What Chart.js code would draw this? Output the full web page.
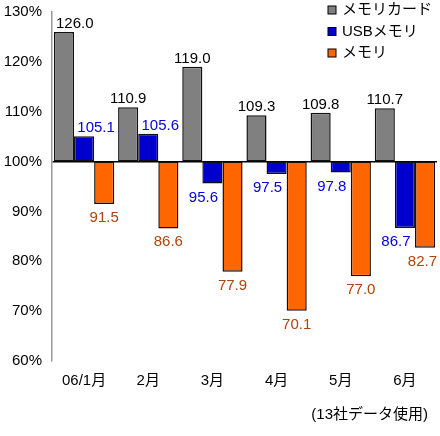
<!DOCTYPE html>
<html>
<head>
<meta charset="utf-8">
<script src="https://cdn.jsdelivr.net/npm/chart.js@4"></script>
<style>
  body { margin: 0; background: #fff; }
</style>
</head>
<body>
<canvas id="memChart" width="440" height="436"></canvas>
<script>
const months = ["06/1月", "2月", "3月", "4月", "5月", "6月"];
const memoryCard = [126.0, 110.9, 119.0, 109.3, 109.8, 110.7];
const usbMemory = [105.1, 105.6, 95.6, 97.5, 97.8, 86.7];
const memory = [91.5, 86.6, 77.9, 70.1, 77.0, 82.7];
const seriesNames = ["メモリカード", "USBメモリ", "メモリ"];
const note = "(13社データ使用)";

const FONT = "'Liberation Sans', Arial, 'Noto Sans CJK JP', sans-serif";
const labelColors = ["#000000", "#0000dd", "#b0420a"];

// 100% を基準にした浮きバー
const toRange = (arr) => arr.map((v) => [100, v]);

const valueLabels = {
    id: "valueLabels",
    afterDatasetsDraw(chart) {
        const ctx = chart.ctx;
        const yScale = chart.scales.y;
        const area = chart.chartArea;
        ctx.save();
        ctx.font = "15px " + FONT;
        ctx.textAlign = "center";
        ctx.textBaseline = "alphabetic";
        chart.data.datasets.forEach((ds, di) => {
            const meta = chart.getDatasetMeta(di);
            ds.values.forEach((v, i) => {
                const txt = v.toFixed(1);
                const w = ctx.measureText(txt).width;
                let x = meta.data[i].x;
                const y = yScale.getPixelForValue(v);
                // 真ん中の系列は隣のバーと重ならないようにずらす
                if (di === 1) x += v >= 100 ? 12 : -9;
                x = Math.max(x, area.left + 4 + w / 2);
                x = Math.min(x, chart.width - 3 - w / 2);
                ctx.fillStyle = labelColors[di];
                if (v >= 100) {
                    ctx.fillText(txt, x, y - 4);
                } else {
                    ctx.fillText(txt, x, y + 18);
                }
            });
        });
        ctx.restore();
    },
};

const legendAndNote = {
    id: "legendAndNote",
    afterDraw(chart) {
        const ctx = chart.ctx;
        ctx.save();
        ctx.font = "15px " + FONT;
        ctx.textBaseline = "middle";
        ctx.textAlign = "left";
        chart.data.datasets.forEach((ds, i) => {
            const y = 10 + i * 21.5;
            ctx.fillStyle = ds.backgroundColor;
            ctx.fillRect(328, y - 4, 8, 8);
            ctx.strokeStyle = "#000";
            ctx.lineWidth = 1;
            ctx.strokeRect(328, y - 4, 8, 8);
            ctx.fillStyle = "#000";
            ctx.fillText(ds.label, 342, y);
        });
        ctx.textAlign = "right";
        ctx.fillText(note, 428, 415);
        ctx.restore();
    },
};

new Chart(document.getElementById("memChart"), {
    type: "bar",
    data: {
        labels: months,
        datasets: [
            {
                label: seriesNames[0],
                values: memoryCard,
                data: toRange(memoryCard),
                backgroundColor: "#808080",
            },
            {
                label: seriesNames[1],
                values: usbMemory,
                data: toRange(usbMemory),
                backgroundColor: "#0000cc",
            },
            {
                label: seriesNames[2],
                values: memory,
                data: toRange(memory),
                backgroundColor: "#ff6600",
            },
        ],
    },
    options: {
        responsive: false,
        animation: false,
        datasets: {
            bar: {
                borderColor: "#111",
                borderWidth: 1.5,
                borderSkipped: false,
                barPercentage: 1,
                categoryPercentage: 0.94,
            },
        },
        layout: { padding: { top: 12, right: 3, left: 0, bottom: 0 } },
        plugins: {
            legend: { display: false },
            tooltip: { enabled: false },
        },
        scales: {
            x: {
                grid: { display: false, drawTicks: false },
                border: { display: false },
                ticks: {
                    color: "#000",
                    font: { size: 15, family: FONT },
                    padding: 11,
                },
                afterFit: (s) => { s.height = 75; },
            },
            y: {
                min: 60,
                max: 130,
                ticks: {
                    stepSize: 10,
                    color: "#000",
                    font: { size: 15, family: FONT },
                    padding: 10,
                    callback: (v) => v + "%",
                },
                grid: {
                    drawTicks: false,
                    color: (c) => (c.tick && c.tick.value === 100 ? "#000" : "rgba(0,0,0,0)"),
                    lineWidth: 1.5,
                },
                border: { display: true, color: "#999", width: 1.5 },
                afterFit: (s) => {
                    s.width = 52;
                    s.paddingTop = 0;
                    s.paddingBottom = 0;
                },
            },
        },
    },
    plugins: [valueLabels, legendAndNote],
});
</script>
</body>
</html>
